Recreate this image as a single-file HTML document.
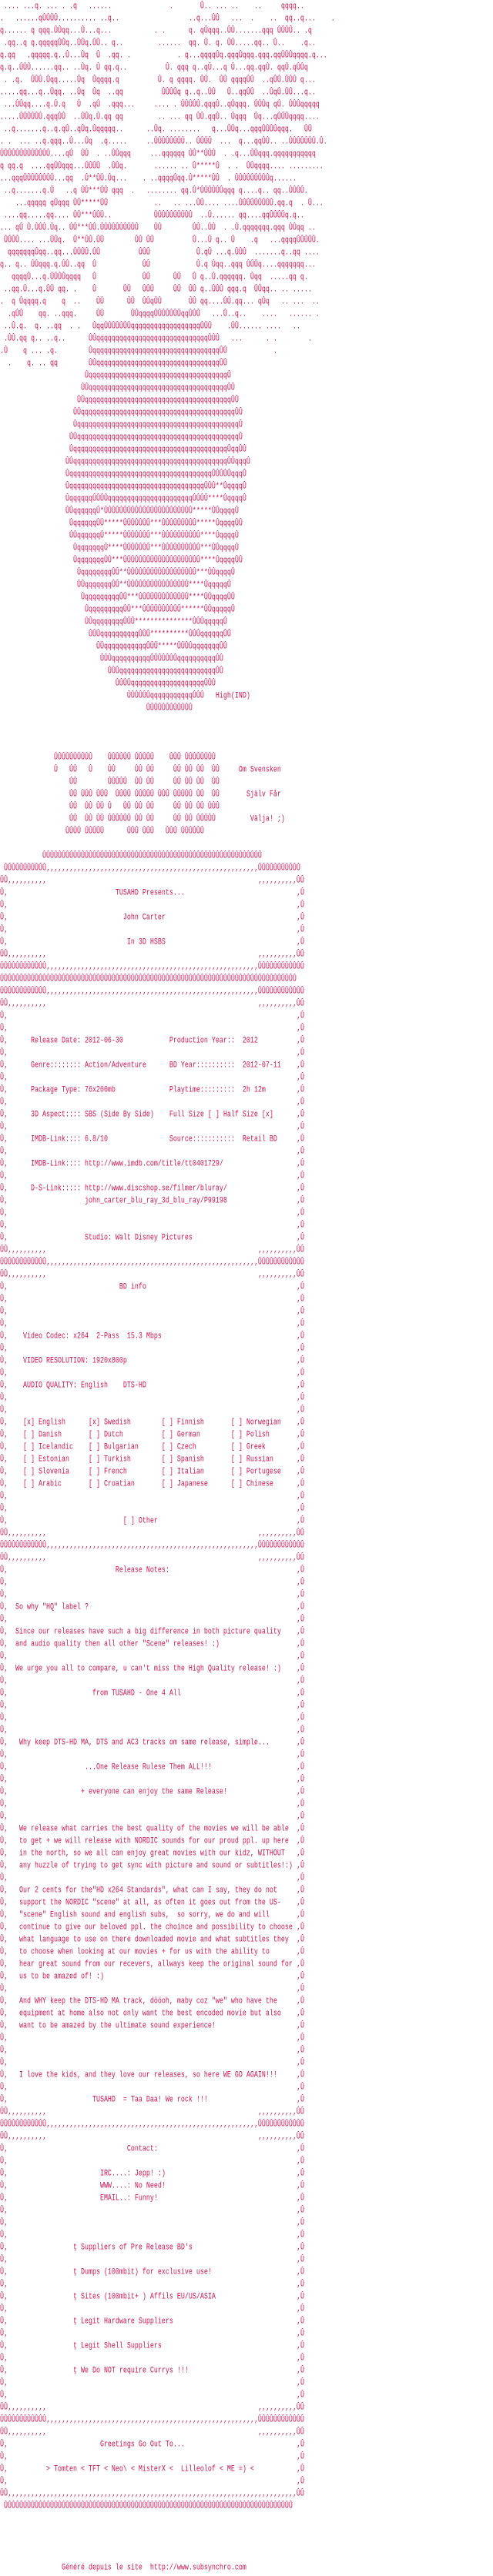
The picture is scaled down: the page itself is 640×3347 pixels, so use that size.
<!DOCTYPE html>
<html><head><meta charset="utf-8">
<style>
html,body{margin:0;padding:0;background:#fff;}
body{width:640px;height:3344px;overflow:hidden;color:#cc1155;font-family:"Liberation Mono",monospace;font-size:8.33px;}
#w div{height:16px;line-height:16px;white-space:pre;position:relative;transform:scaleY(1.35);transform-origin:50% 50%;}
#w div.b::after{content:"‚Û";position:absolute;left:385px;top:0;}
</style></head><body><div id="w">
<div> .... ...q. ... . .q   ......               .       Û.. ... ..    ..     qqqq..</div>
<div>.   ......qÛÛÛÛ.......... ..q..                  ..q...ÛÛ   ...  .    ..  qq..q...    .</div>
<div>q...... q qqq.ÛÛqq...Û...q...           . .      q. qÛqqq..ÛÛ.......qqq ÛÛÛÛ.. .q</div>
<div> .qq..q q.qqqqqÛÛq..ÛÛq.ÛÛ.. q..         ......  qq. Û. q. ÛÛ.....qq.. Û..    .q..</div>
<div>q.qq   .qqqqq.q..Û...Ûq  Û  .qq. .            . q...qqqqÛq.qqqÛqqq.qqq.qqÛÛÛqqqq.q...</div>
<div>q.q..ÛÛÛ......qq.. ..Ûq. Û qq.q..          Û. qqq q..qÛ...q Û...qq.qqÛ. qqÛ.qÛÛq</div>
<div> . .q.  ÛÛÛ.Ûqq.....Ûq  Ûqqqq.q          Û. q qqqq. ÛÛ.  ÛÛ qqqqÛÛ  ..qÛÛ.ÛÛÛ q...</div>
<div>.....qq...q..Ûqq. ..Ûq  Ûq  ..qq          ÛÛÛÛq q..q..ÛÛ   Û..qqÛÛ  ..ÛqÛ.ÛÛ...q..</div>
<div> ...ÛÛqq....q.Û.q   Û  .qÛ  .qqq...     .... . ÛÛÛÛÛ.qqqÛ..qÛqqq. ÛÛÛq qÛ. ÛÛÛqqqqq</div>
<div>.....ÛÛÛÛÛÛ.qqqÛÛ  ..ÛÛq.Û.qq qq         .. ... qq ÛÛ.qqÛ.. Ûqqq  Ûq...qÛÛÛqqqq....</div>
<div> ..q.......q..q.qÛ..qÛq.Ûqqqqq..      ..Ûq. ........   q...ÛÛq...qqqÛÛÛÛqqq.   ÛÛ</div>
<div>. .  ... ..q.qqq..Û...Ûq  .q.....     ..ÛÛÛÛÛÛÛÛ.. ÛÛÛÛ  ...  q...qqÛÛ.. ..ÛÛÛÛÛÛÛ.Û.</div>
<div>ÛÛÛÛÛÛÛÛÛÛÛÛÛ....qÛ  ÛÛ  . ..ÛÛqqq     ...qqqqqq ÛÛ**ÛÛÛ  . .q...ÛÛqqq.qqqqqqqqqqq</div>
<div>q qq.q  ....qqÛÛqqq...ÛÛÛÛ  .ÛÛq.       ...... .. Û*****Û  . .  ÛÛqqqq.... .........</div>
<div>...qqqÛÛÛÛÛÛÛÛ...qq  .Û**ÛÛ.Ûq...    . ..qqqqÛqq.Û*****ÛÛ  . ÛÛÛÛÛÛÛÛÛq......</div>
<div> ..q.......q.Û   ..q ÛÛ***ÛÛ qqq  .   ........ qq.Û*ÛÛÛÛÛÛqqq q....q.. qq..ÛÛÛÛ.</div>
<div>    ...qqqqq qÛqqq ÛÛ*****ÛÛ            ..   .. ...ÛÛ.... ....ÛÛÛÛÛÛÛÛÛ.qq.q  . Û...</div>
<div> ....qq.....qq.... ÛÛ***ÛÛÛ..           ÛÛÛÛÛÛÛÛÛÛ  ..Û...... qq....qqÛÛÛÛq.q..</div>
<div>... qÛ Û.ÛÛÛ.Ûq.. ÛÛ***ÛÛ.ÛÛÛÛÛÛÛÛÛÛ    ÛÛ        ÛÛ..ÛÛ  . .Û.qqqqqqq.qqq ÛÛqq ..</div>
<div> ÛÛÛÛ.... ...ÛÛq.  Û**ÛÛ.ÛÛ        ÛÛ ÛÛ          Û...Û q.. Û    .q   ...qqqqÛÛÛÛÛ.</div>
<div>  qqqqqqqÛqq..qq...ÛÛÛÛ.ÛÛ          ÛÛÛ            Û.qÛ ...q.ÛÛÛ  .......q..qq ....</div>
<div>q.. q.. ÛÛqqq.q.ÛÛ..qq  Û            ÛÛ            Û.q Ûqq..qqq ÛÛÛq....qqqqqqq...</div>
<div>   qqqqÛ...q.ÛÛÛÛqqqq   Û            ÛÛ      ÛÛ   Û q..Û.qqqqqq. Ûqq  .....qq q.</div>
<div> ..qq.Û...q.ÛÛ qq. .    Û       ÛÛ   ÛÛÛ     ÛÛ  ÛÛ q..ÛÛÛ qqq.q  ÛÛqq.. .. .....</div>
<div>.  q Ûqqqq.q    q  ..    ÛÛ      ÛÛ  ÛÛqÛÛ       ÛÛ qq....ÛÛ.qq... qÛq   .. ...  ..</div>
<div>  .qÛÛ    qq. ..qqq.     ÛÛ       ÛÛqqqqÛÛÛÛÛÛÛqqÛÛÛ   ...Û..q..    ....   ...... .</div>
<div> ..Û.q.  q. ..qq  . .   ÛqqÛÛÛÛÛÛÛqqqqqqqqqqqqqqqqqqÛÛÛ    .ÛÛ...... ....   ..</div>
<div> .ÛÛ.qq q.. ..q..      ÛÛqqqqqqqqqqqqqqqqqqqqqqqqqqqqqÛÛÛ   ...      . .        .</div>
<div>.Û    q ... .q.        ÛqqqqqqqqqqqqqqqqqqqqqqqqqqqqqqqqqÛÛ            .</div>
<div>  .    q. .. qq        ÛÛqqqqqqqqqqqqqqqqqqqqqqqqqqqqqqqqÛÛ</div>
<div>                      ÛqqqqqqqqqqqqqqqqqqqqqqqqqqqqqqqqqqqqÛ</div>
<div>                     ÛÛqqqqqqqqqqqqqqqqqqqqqqqqqqqqqqqqqqqqÛÛ</div>
<div>                    ÛÛqqqqqqqqqqqqqqqqqqqqqqqqqqqqqqqqqqqqqqÛÛ</div>
<div>                   ÛÛqqqqqqqqqqqqqqqqqqqqqqqqqqqqqqqqqqqqqqqqÛÛ</div>
<div>                   ÛqqqqqqqqqqqqqqqqqqqqqqqqqqqqqqqqqqqqqqqqqqÛ</div>
<div>                  ÛÛqqqqqqqqqqqqqqqqqqqqqqqqqqqqqqqqqqqqqqqqqqÛ</div>
<div>                  ÛqqqqqqqqqqqqqqqqqqqqqqqqqqqqqqqqqqqqqqqqÛqqÛÛ</div>
<div>                 ÛÛqqqqqqqqqqqqqqqqqqqqqqqqqqqqqqqqqqqqqqqqÛÛqqqÛ</div>
<div>                 ÛqqqqqqqqqqqqqqqqqqqqqqqqqqqqqqqqqqqqqÛÛÛÛÛqqqÛ</div>
<div>                 ÛqqqqqqqqqqqqqqqqqqqqqqqqqqqqqqqqqqqÛÛÛ**ÛqqqqÛ</div>
<div>                 ÛqqqqqqÛÛÛÛqqqqqqqqqqqqqqqqqqqqqqÛÛÛÛ****ÛqqqqÛ</div>
<div>                 ÛÛqqqqqqÛ*ÛÛÛÛÛÛÛÛÛÛÛÛÛÛÛÛÛÛÛÛÛÛÛ*****ÛÛqqqqÛ</div>
<div>                  ÛqqqqqqÛÛ*****ÛÛÛÛÛÛÛ***ÛÛÛÛÛÛÛÛÛ*****ÛqqqqÛÛ</div>
<div>                  ÛÛqqqqqqÛ*****ÛÛÛÛÛÛÛ***ÛÛÛÛÛÛÛÛÛÛ****ÛqqqqÛ</div>
<div>                   ÛqqqqqqqÛ****ÛÛÛÛÛÛÛ***ÛÛÛÛÛÛÛÛÛÛ***ÛÛqqqqÛ</div>
<div>                   ÛqqqqqqqÛÛ***ÛÛÛÛÛÛÛÛÛÛÛÛÛÛÛÛÛÛÛÛ****ÛqqqqÛÛ</div>
<div>                    ÛqqqqqqqqÛÛ**ÛÛÛÛÛÛÛÛÛÛÛÛÛÛÛÛÛÛ***ÛÛqqqqÛ</div>
<div>                    ÛÛqqqqqqqÛÛ**ÛÛÛÛÛÛÛÛÛÛÛÛÛÛÛÛ****ÛqqqqqÛ</div>
<div>                     ÛqqqqqqqqqÛÛ***ÛÛÛÛÛÛÛÛÛÛÛÛÛ****ÛÛqqqqÛÛ</div>
<div>                      ÛqqqqqqqqqÛÛ***ÛÛÛÛÛÛÛÛÛÛ******ÛÛqqqqqÛ</div>
<div>                      ÛÛqqqqqqqqÛÛÛ***************ÛÛÛqqqqqÛ</div>
<div>                       ÛÛÛqqqqqqqqqqÛÛÛ**********ÛÛÛqqqqqqÛÛ</div>
<div>                         ÛÛqqqqqqqqqqqÛÛÛ*****ÛÛÛÛqqqqqqqÛÛ</div>
<div>                          ÛÛÛqqqqqqqqqqÛÛÛÛÛÛÛqqqqqqqqqqÛÛ</div>
<div>                            ÛÛÛqqqqqqqqqqqqqqqqqqqqqqqqqÛÛ</div>
<div>                              ÛÛÛÛqqqqqqqqqqqqqqqqqqqÛÛÛ</div>
<div>                                 ÛÛÛÛÛÛqqqqqqqqqqqÛÛÛ   High(IND)</div>
<div>                                      ÛÛÛÛÛÛÛÛÛÛÛÛ</div>
<div></div>
<div></div>
<div></div>
<div>              ÛÛÛÛÛÛÛÛÛÛ    ÛÛÛÛÛÛ ÛÛÛÛÛ    ÛÛÛ ÛÛÛÛÛÛÛÛ</div>
<div>              Û   ÛÛ   Û    ÛÛ     ÛÛ ÛÛ     ÛÛ ÛÛ ÛÛ  ÛÛ     Om Svensken</div>
<div>                  ÛÛ        ÛÛÛÛÛ  ÛÛ ÛÛ     ÛÛ ÛÛ ÛÛ  ÛÛ</div>
<div>                  ÛÛ ÛÛÛ ÛÛÛ  ÛÛÛÛ ÛÛÛÛÛ ÛÛÛ ÛÛÛÛÛ ÛÛ  ÛÛ       Själv Får</div>
<div>                  ÛÛ  ÛÛ ÛÛ Û   ÛÛ ÛÛ ÛÛ     ÛÛ ÛÛ ÛÛ ÛÛÛ</div>
<div>                  ÛÛ  ÛÛ ÛÛ ÛÛÛÛÛÛ ÛÛ ÛÛ     ÛÛ ÛÛ ÛÛÛÛÛ         Välja! ;)</div>
<div>                 ÛÛÛÛ ÛÛÛÛÛ      ÛÛÛ ÛÛÛ   ÛÛÛ ÛÛÛÛÛÛ</div>
<div></div>
<div>           ÛÛÛÛÛÛÛÛÛÛÛÛÛÛÛÛÛÛÛÛÛÛÛÛÛÛÛÛÛÛÛÛÛÛÛÛÛÛÛÛÛÛÛÛÛÛÛÛÛÛÛÛÛÛÛÛÛ</div>
<div> ÛÛÛÛÛÛÛÛÛÛÛ‚‚‚‚‚‚‚‚‚‚‚‚‚‚‚‚‚‚‚‚‚‚‚‚‚‚‚‚‚‚‚‚‚‚‚‚‚‚‚‚‚‚‚‚‚‚‚‚‚‚‚‚‚‚‚ÛÛÛÛÛÛÛÛÛÛÛ</div>
<div>ÛÛ‚‚‚‚‚‚‚‚‚‚                                                       ‚‚‚‚‚‚‚‚‚‚ÛÛ</div>
<div class="b">Û‚                            TUSAHD Presents...</div>
<div class="b">Û‚</div>
<div class="b">Û‚                              John Carter</div>
<div class="b">Û‚</div>
<div class="b">Û‚                               In 3D HSBS</div>
<div>ÛÛ‚‚‚‚‚‚‚‚‚‚                                                       ‚‚‚‚‚‚‚‚‚‚ÛÛ</div>
<div>ÛÛÛÛÛÛÛÛÛÛÛÛ‚‚‚‚‚‚‚‚‚‚‚‚‚‚‚‚‚‚‚‚‚‚‚‚‚‚‚‚‚‚‚‚‚‚‚‚‚‚‚‚‚‚‚‚‚‚‚‚‚‚‚‚‚‚‚ÛÛÛÛÛÛÛÛÛÛÛÛ</div>
<div>ÛÛÛÛÛÛÛÛÛÛÛÛÛÛÛÛÛÛÛÛÛÛÛÛÛÛÛÛÛÛÛÛÛÛÛÛÛÛÛÛÛÛÛÛÛÛÛÛÛÛÛÛÛÛÛÛÛÛÛÛÛÛÛÛÛÛÛÛÛÛÛÛÛÛÛÛÛ</div>
<div>ÛÛÛÛÛÛÛÛÛÛÛÛ‚‚‚‚‚‚‚‚‚‚‚‚‚‚‚‚‚‚‚‚‚‚‚‚‚‚‚‚‚‚‚‚‚‚‚‚‚‚‚‚‚‚‚‚‚‚‚‚‚‚‚‚‚‚‚ÛÛÛÛÛÛÛÛÛÛÛÛ</div>
<div>ÛÛ‚‚‚‚‚‚‚‚‚‚                                                       ‚‚‚‚‚‚‚‚‚‚ÛÛ</div>
<div class="b">Û‚</div>
<div class="b">Û‚</div>
<div class="b">Û‚      Release Date: 2012-06-30            Production Year::  2012</div>
<div class="b">Û‚</div>
<div class="b">Û‚      Genre:::::::: Action/Adventure      BD Year::::::::::  2012-07-11</div>
<div class="b">Û‚</div>
<div class="b">Û‚      Package Type: 76x200mb              Playtime:::::::::  2h 12m</div>
<div class="b">Û‚</div>
<div class="b">Û‚      3D Aspect:::: SBS (Side By Side)    Full Size [ ] Half Size [x]</div>
<div class="b">Û‚</div>
<div class="b">Û‚      IMDB-Link:::: 6.8/10                Source:::::::::::  Retail BD</div>
<div class="b">Û‚</div>
<div class="b">Û‚      IMDB-Link:::: http://www.imdb.com/title/tt0401729/</div>
<div class="b">Û‚</div>
<div class="b">Û‚      D-S-Link::::: http://www.discshop.se/filmer/bluray/</div>
<div class="b">Û‚                    john_carter_blu_ray_3d_blu_ray/P99198</div>
<div class="b">Û‚</div>
<div class="b">Û‚</div>
<div class="b">Û‚                    Studio: Walt Disney Pictures</div>
<div>ÛÛ‚‚‚‚‚‚‚‚‚‚                                                       ‚‚‚‚‚‚‚‚‚‚ÛÛ</div>
<div>ÛÛÛÛÛÛÛÛÛÛÛÛ‚‚‚‚‚‚‚‚‚‚‚‚‚‚‚‚‚‚‚‚‚‚‚‚‚‚‚‚‚‚‚‚‚‚‚‚‚‚‚‚‚‚‚‚‚‚‚‚‚‚‚‚‚‚‚ÛÛÛÛÛÛÛÛÛÛÛÛ</div>
<div>ÛÛ‚‚‚‚‚‚‚‚‚‚                                                       ‚‚‚‚‚‚‚‚‚‚ÛÛ</div>
<div class="b">Û‚                             BD info</div>
<div class="b">Û‚</div>
<div class="b">Û‚</div>
<div class="b">Û‚</div>
<div class="b">Û‚    Video Codec: x264  2-Pass  15.3 Mbps</div>
<div class="b">Û‚</div>
<div class="b">Û‚    VIDEO RESOLUTION: 1920x800p</div>
<div class="b">Û‚</div>
<div class="b">Û‚    AUDIO QUALITY: English    DTS-HD</div>
<div class="b">Û‚</div>
<div class="b">Û‚</div>
<div class="b">Û‚    [x] English      [x] Swedish        [ ] Finnish       [ ] Norwegian</div>
<div class="b">Û‚    [ ] Danish       [ ] Dutch          [ ] German        [ ] Polish</div>
<div class="b">Û‚    [ ] Icelandic    [ ] Bulgarian      [ ] Czech         [ ] Greek</div>
<div class="b">Û‚    [ ] Estonian     [ ] Turkish        [ ] Spanish       [ ] Russian</div>
<div class="b">Û‚    [ ] Slovenia     [ ] French         [ ] Italian       [ ] Portugese</div>
<div class="b">Û‚    [ ] Arabic       [ ] Croatian       [ ] Japanese      [ ] Chinese</div>
<div class="b">Û‚</div>
<div class="b">Û‚</div>
<div class="b">Û‚                              [ ] Other</div>
<div>ÛÛ‚‚‚‚‚‚‚‚‚‚                                                       ‚‚‚‚‚‚‚‚‚‚ÛÛ</div>
<div>ÛÛÛÛÛÛÛÛÛÛÛÛ‚‚‚‚‚‚‚‚‚‚‚‚‚‚‚‚‚‚‚‚‚‚‚‚‚‚‚‚‚‚‚‚‚‚‚‚‚‚‚‚‚‚‚‚‚‚‚‚‚‚‚‚‚‚‚ÛÛÛÛÛÛÛÛÛÛÛÛ</div>
<div>ÛÛ‚‚‚‚‚‚‚‚‚‚                                                       ‚‚‚‚‚‚‚‚‚‚ÛÛ</div>
<div class="b">Û‚                            Release Notes:</div>
<div class="b">Û‚</div>
<div class="b">Û‚</div>
<div class="b">Û‚  So why "HQ" label ?</div>
<div class="b">Û‚</div>
<div class="b">Û‚  Since our releases have such a big difference in both picture quality</div>
<div class="b">Û‚  and audio quality then all other "Scene" releases! :)</div>
<div class="b">Û‚</div>
<div class="b">Û‚  We urge you all to compare, u can't miss the High Quality release! :)</div>
<div class="b">Û‚</div>
<div class="b">Û‚                      from TUSAHD - One 4 All</div>
<div class="b">Û‚</div>
<div class="b">Û‚</div>
<div class="b">Û‚</div>
<div class="b">Û‚   Why keep DTS-HD MA, DTS and AC3 tracks om same release, simple...</div>
<div class="b">Û‚</div>
<div class="b">Û‚                    ...One Release Rulese Them ALL!!!</div>
<div class="b">Û‚</div>
<div class="b">Û‚                   + everyone can enjoy the same Release!</div>
<div class="b">Û‚</div>
<div class="b">Û‚</div>
<div class="b">Û‚   We release what carries the best quality of the movies we will be able</div>
<div class="b">Û‚   to get + we will release with NORDIC sounds for our proud ppl. up here</div>
<div class="b">Û‚   in the north, so we all can enjoy great movies with our kidz, WITHOUT</div>
<div class="b">Û‚   any huzzle of trying to get sync with picture and sound or subtitles!:)</div>
<div class="b">Û‚</div>
<div class="b">Û‚   Our 2 cents for the"HD x264 Standards", what can I say, they do not</div>
<div class="b">Û‚   support the NORDIC "scene" at all, as often it goes out from the US-</div>
<div class="b">Û‚   "scene" English sound and english subs,  so sorry, we do and will</div>
<div class="b">Û‚   continue to give our beloved ppl. the choince and possibility to choose</div>
<div class="b">Û‚   what language to use on there downloaded movie and what subtitles they</div>
<div class="b">Û‚   to choose when looking at our movies + for us with the ability to</div>
<div class="b">Û‚   hear great sound from our recevers, allways keep the original sound for</div>
<div class="b">Û‚   us to be amazed of! :)</div>
<div class="b">Û‚</div>
<div class="b">Û‚   And WHY keep the DTS-HD MA track, dööoh, maby coz "we" who have the</div>
<div class="b">Û‚   equipment at home also not only want the best encoded movie but also</div>
<div class="b">Û‚   want to be amazed by the ultimate sound experience!</div>
<div class="b">Û‚</div>
<div class="b">Û‚</div>
<div class="b">Û‚</div>
<div class="b">Û‚   I love the kids, and they love our releases, so here WE GO AGAIN!!!</div>
<div class="b">Û‚</div>
<div class="b">Û‚                      TUSAHD  = Taa Daa! We rock !!!</div>
<div>ÛÛ‚‚‚‚‚‚‚‚‚‚                                                       ‚‚‚‚‚‚‚‚‚‚ÛÛ</div>
<div>ÛÛÛÛÛÛÛÛÛÛÛÛ‚‚‚‚‚‚‚‚‚‚‚‚‚‚‚‚‚‚‚‚‚‚‚‚‚‚‚‚‚‚‚‚‚‚‚‚‚‚‚‚‚‚‚‚‚‚‚‚‚‚‚‚‚‚‚ÛÛÛÛÛÛÛÛÛÛÛÛ</div>
<div>ÛÛ‚‚‚‚‚‚‚‚‚‚                                                       ‚‚‚‚‚‚‚‚‚‚ÛÛ</div>
<div class="b">Û‚                               Contact:</div>
<div class="b">Û‚</div>
<div class="b">Û‚                        IRC....: Jepp! :)</div>
<div class="b">Û‚                        WWW....: No Need!</div>
<div class="b">Û‚                        EMAIL..: Funny!</div>
<div class="b">Û‚</div>
<div class="b">Û‚</div>
<div class="b">Û‚</div>
<div class="b">Û‚                 ţ Suppliers of Pre Release BD's</div>
<div class="b">Û‚</div>
<div class="b">Û‚                 ţ Dumps (100mbit) for exclusive use!</div>
<div class="b">Û‚</div>
<div class="b">Û‚                 ţ Sites (100mbit+ ) Affils EU/US/ASIA</div>
<div class="b">Û‚</div>
<div class="b">Û‚                 ţ Legit Hardware Suppliers</div>
<div class="b">Û‚</div>
<div class="b">Û‚                 ţ Legit Shell Suppliers</div>
<div class="b">Û‚</div>
<div class="b">Û‚                 ţ We Do NOT require Currys !!!</div>
<div class="b">Û‚</div>
<div class="b">Û‚</div>
<div>ÛÛ‚‚‚‚‚‚‚‚‚‚                                                       ‚‚‚‚‚‚‚‚‚‚ÛÛ</div>
<div>ÛÛÛÛÛÛÛÛÛÛÛÛ‚‚‚‚‚‚‚‚‚‚‚‚‚‚‚‚‚‚‚‚‚‚‚‚‚‚‚‚‚‚‚‚‚‚‚‚‚‚‚‚‚‚‚‚‚‚‚‚‚‚‚‚‚‚‚ÛÛÛÛÛÛÛÛÛÛÛÛ</div>
<div>ÛÛ‚‚‚‚‚‚‚‚‚‚                                                       ‚‚‚‚‚‚‚‚‚‚ÛÛ</div>
<div class="b">Û‚                        Greetings Go Out To...</div>
<div class="b">Û‚</div>
<div class="b">Û‚          &gt; Tomten &lt; TFT &lt; Neo\ &lt; MisterX &lt;  Lilleolof &lt; ME =) &lt;</div>
<div class="b">Û‚</div>
<div>ÛÛ‚‚‚‚‚‚‚‚‚‚‚‚‚‚‚‚‚‚‚‚‚‚‚‚‚‚‚‚‚‚‚‚‚‚‚‚‚‚‚‚‚‚‚‚‚‚‚‚‚‚‚‚‚‚‚‚‚‚‚‚‚‚‚‚‚‚‚‚‚‚‚‚‚‚‚ÛÛ</div>
<div> ÛÛÛÛÛÛÛÛÛÛÛÛÛÛÛÛÛÛÛÛÛÛÛÛÛÛÛÛÛÛÛÛÛÛÛÛÛÛÛÛÛÛÛÛÛÛÛÛÛÛÛÛÛÛÛÛÛÛÛÛÛÛÛÛÛÛÛÛÛÛÛÛÛÛÛ</div>
<div></div>
<div></div>
<div></div>
<div></div>
<div>                Généré depuis le site  http://www.subsynchro.com</div>
</div></body></html>
